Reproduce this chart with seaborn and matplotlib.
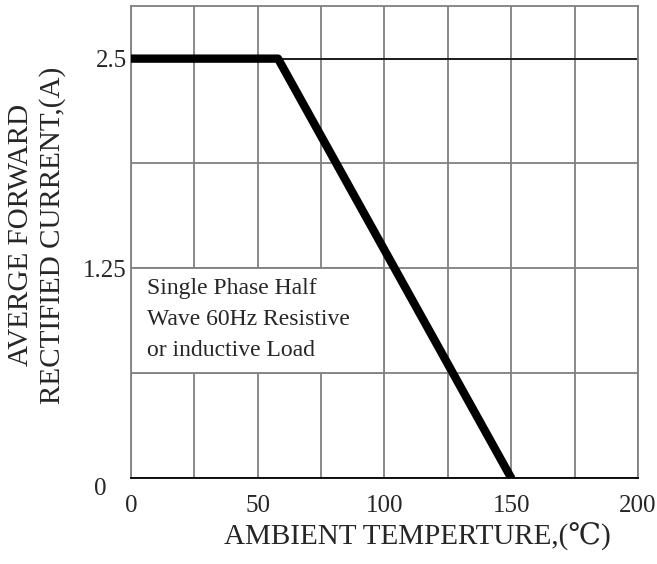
import matplotlib.pyplot as plt
import matplotlib.patches as patches
import matplotlib.transforms as mtransforms
import pandas as pd
import seaborn as sns

# Derating curve
temp = [0, 58, 150]
current = [2.5, 2.5, 0]

x_ticks = [0, 25, 50, 75, 100, 125, 150, 175, 200]
x_labels = ['0', '', '50', '', '100', '', '150', '', '200']
y_ticks = [0, 0.625, 1.25, 1.875, 2.5]
y_labels = ['0', '', '1.25', '', '2.5']

note = 'Single Phase Half\nWave 60Hz Resistive\nor inductive Load'

df = pd.DataFrame({'temp': temp, 'current': current})

sns.set_style('white')
plt.rcParams['font.family'] = ['Liberation Serif', 'DejaVu Serif']

fig = plt.figure(figsize=(6.57, 5.64), dpi=100)
ax = fig.add_axes([0.1994, 0.1525, 0.7716, 0.8365])

grid_color = '#808080'
ax.set_axisbelow(True)
ax.grid(True, color=grid_color, linewidth=1.3)

# white note box hides the grid inside it
box = patches.Rectangle((0, 0.625), 100, 0.625, facecolor='white',
                        edgecolor=grid_color, linewidth=1.3, zorder=1)
ax.add_patch(box)
ax.text(6.5, 1.19, note, fontsize=17, va='top', ha='left',
        linespacing=1.6, zorder=4)

ax.axhline(2.5, color='black', linewidth=1.1, zorder=2)
sns.lineplot(data=df, x='temp', y='current', color='black', linewidth=6,
             solid_capstyle='round', ax=ax, zorder=3)

ax.set_xlim(0, 200)
ax.set_ylim(0, 2.8125)
ax.set_xticks(x_ticks)
ax.set_xticklabels(x_labels)
ax.set_yticks(y_ticks)
ax.set_yticklabels(y_labels)
ax.tick_params(axis='both', length=0, labelsize=18)
ax.tick_params(axis='x', pad=12)
ax.tick_params(axis='y', pad=3)

# the y "0" sits a little lower and further left than the others
zero = ax.get_yticklabels()[0]
zero.set_verticalalignment('top')
zero.set_transform(zero.get_transform() +
                   mtransforms.ScaledTranslation(-0.2, 0, fig.dpi_scale_trans))

for side in ['top', 'left', 'right']:
    ax.spines[side].set_color(grid_color)
    ax.spines[side].set_linewidth(1.3)
ax.spines['bottom'].set_color('black')
ax.spines['bottom'].set_linewidth(1.3)

ax.set_xlabel('AMBIENT TEMPERTURE,(℃)', fontsize=21)
ax.xaxis.set_label_coords(0.565, -0.095)
ax.set_ylabel('AVERGE FORWARD\nRECTIFIED CURRENT,(A)', fontsize=21,
              linespacing=1.25)
ax.yaxis.set_label_coords(-0.128, 0.515)

fig.savefig('out.png', dpi=100)
